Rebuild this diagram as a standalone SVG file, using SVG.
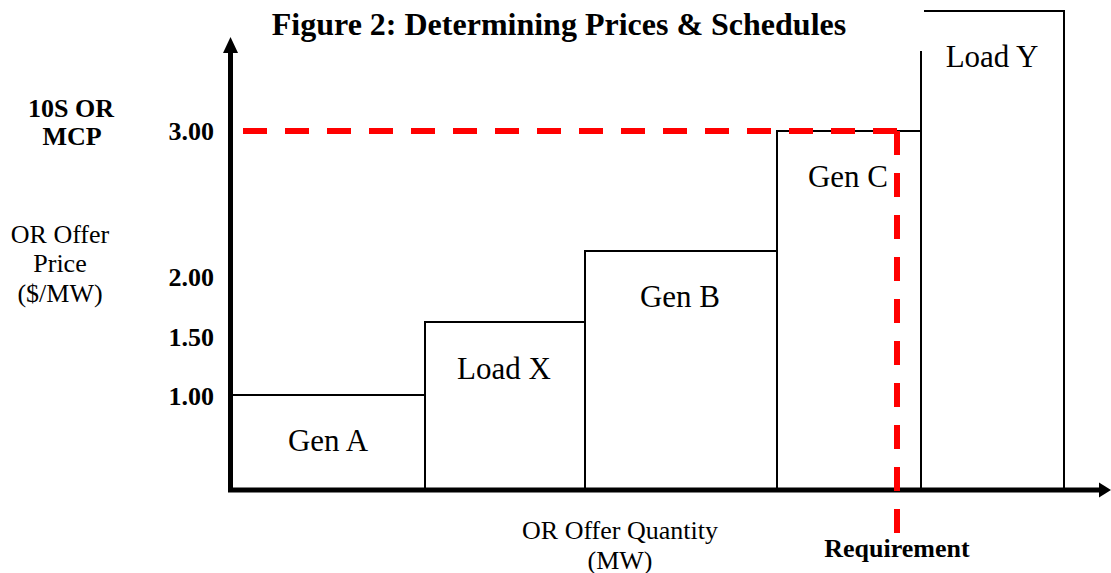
<svg xmlns="http://www.w3.org/2000/svg" width="1111" height="573" viewBox="0 0 1111 573">
<style>
.t{font-family:"Liberation Serif","Times New Roman",serif;fill:#000}
.b{font-weight:bold}
.lbl{font-size:31px;text-anchor:middle}
.ax{font-size:26px}
.bar{fill:none;stroke:#000;stroke-width:2}
.axis{stroke:#000;stroke-width:5;fill:none}
.red{stroke:#ff0000;stroke-width:6;fill:none;stroke-dasharray:24 18}
</style>
<rect width="1111" height="573" fill="#fff"/>
<text class="t b" x="559" y="35" font-size="32" text-anchor="middle">Figure 2: Determining Prices &amp; Schedules</text>
<g id="gen-a"><rect class="bar" x="230" y="395" width="195" height="95"/><text class="t lbl" x="328" y="451">Gen A</text></g>
<g id="load-x"><rect class="bar" x="425" y="322" width="160" height="168"/><text class="t lbl" x="504" y="379">Load X</text></g>
<g id="gen-b"><rect class="bar" x="585" y="251" width="192" height="239"/><text class="t lbl" x="680" y="307">Gen B</text></g>
<g id="gen-c"><rect class="bar" x="777" y="131" width="144" height="359"/><text class="t lbl" x="848" y="187">Gen C</text></g>
<g id="load-y"><path class="bar" d="M921 490V51M924 11H1064V490"/><text class="t lbl" x="992" y="67">Load Y</text></g>
<g id="axes">
<path class="axis" d="M230.5 492V50"/>
<path d="M223 53L230.5 37L238 53Z" fill="#000"/>
<path class="axis" d="M228 490H1100"/>
<path d="M1099 482.5L1111 490L1099 497.5Z" fill="#000"/>
</g>
<g id="connectors">
<path class="red" d="M243 131H899"/>
<path class="red" d="M897 131V533"/>
</g>
<g id="y-labels">
<text class="t b ax" x="71" y="117" text-anchor="middle">10S OR</text>
<text class="t b ax" x="72" y="145" text-anchor="middle">MCP</text>
<text class="t b ax" x="214" y="140" text-anchor="end">3.00</text>
<text class="t b ax" x="214" y="286" text-anchor="end">2.00</text>
<text class="t b ax" x="214" y="346" text-anchor="end">1.50</text>
<text class="t b ax" x="214" y="405" text-anchor="end">1.00</text>
<text class="t ax" x="60" y="243" text-anchor="middle">OR Offer</text>
<text class="t ax" x="60" y="272" text-anchor="middle">Price</text>
<text class="t ax" x="60" y="302" text-anchor="middle">($/MW)</text>
</g>
<g id="x-labels">
<text class="t ax" x="620" y="539" text-anchor="middle">OR Offer Quantity</text>
<text class="t ax" x="620" y="569" text-anchor="middle">(MW)</text>
<text class="t b ax" x="897" y="557" text-anchor="middle">Requirement</text>
</g>
</svg>
